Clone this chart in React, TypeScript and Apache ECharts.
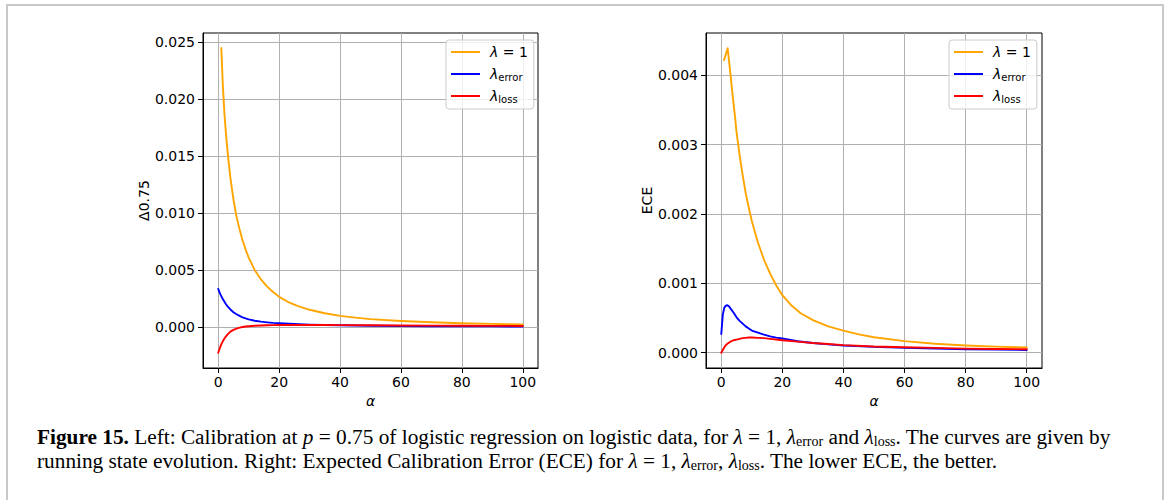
import React, { useEffect, useRef } from "react";
import * as echarts from "echarts";

// ---- data ----
const xTicks = [0, 20, 40, 60, 80, 100];
const leftYTicks = [0, 0.005, 0.01, 0.015, 0.02, 0.025];
const rightYTicks = [0, 0.001, 0.002, 0.003, 0.004];

const seriesNames = ["lam1", "lamErr", "lamLoss"];

const alphaDense = [0, 0.5, 1, 1.5, 2, 2.5, 3, 4, 5, 6, 7, 8, 9, 10, 12, 14, 16, 18, 20, 25, 30, 35, 40, 50, 60, 70, 80, 90, 100];

// Left panel: calibration Delta_0.75
const alphaLeftOrange = [1, 1.5, 2, 2.5, 3, 3.5, 4, 5, 6, 7, 8, 9, 10, 12, 14, 16, 18, 20, 23, 26, 30, 35, 40, 45, 50, 60, 70, 80, 90, 100];
const leftOrange = [0.0245, 0.0213, 0.0189, 0.0171, 0.0156, 0.0143, 0.0131, 0.0112, 0.0097, 0.0086, 0.0076, 0.0068, 0.0061, 0.005, 0.0042, 0.00358, 0.00308, 0.00266, 0.0022, 0.00186, 0.00152, 0.00122, 0.00099, 0.00083, 0.0007, 0.00054, 0.00042, 0.00034, 0.00028, 0.00023];
const leftBlue = [0.00335, 0.003, 0.00272, 0.00247, 0.00224, 0.00203, 0.00185, 0.00155, 0.00131, 0.00113, 0.00098, 0.00086, 0.00076, 0.00068, 0.00056, 0.00048, 0.00042, 0.00037, 0.00034, 0.00027, 0.00022, 0.000185, 0.00016, 0.00012, 0.0001, 0.00008, 0.00007, 0.00006, 0.00005];
const leftRed = [-0.00225, -0.00185, -0.00152, -0.00125, -0.00103, -0.00083, -0.00066, -0.0004, -0.00024, -0.00013, -0.00005, 0.00001, 0.00005, 0.00008, 0.00012, 0.00014, 0.00016, 0.00017, 0.00018, 0.00019, 0.00019, 0.00018, 0.00017, 0.00016, 0.00014, 0.00013, 0.00012, 0.00011, 0.0001];

// Right panel: ECE
const alphaRightOrange = [0.9, 2.1, 3, 3.5, 4, 4.5, 5, 6, 7, 8, 9, 10, 11, 12, 14, 16, 18, 20, 23, 26, 30, 35, 40, 45, 50, 60, 70, 80, 90, 100];
const rightOrange = [0.00422, 0.00439, 0.00402, 0.0038, 0.0036, 0.0034, 0.00318, 0.00285, 0.00256, 0.0023, 0.00209, 0.0019, 0.00174, 0.00159, 0.00134, 0.00114, 0.00097, 0.00083, 0.00068, 0.00057, 0.00047, 0.00038, 0.00032, 0.000265, 0.000224, 0.000167, 0.00013, 0.000105, 0.000088, 0.000077];
const rightBlue = [0.00027, 0.00055, 0.00065, 0.00068, 0.000685, 0.00067, 0.00064, 0.00058, 0.00051, 0.00046, 0.00042, 0.00038, 0.00035, 0.00032, 0.00029, 0.00026, 0.000235, 0.000218, 0.000205, 0.000165, 0.00014, 0.00012, 0.000105, 0.000085, 0.00007, 0.00006, 0.00005, 0.000045, 0.00004];
const rightRed = [0, 0.00004, 0.00008, 0.00011, 0.00013, 0.000145, 0.00016, 0.00018, 0.00019, 0.0002, 0.00021, 0.000215, 0.00022, 0.00022, 0.000215, 0.00021, 0.0002, 0.00019, 0.00018, 0.00016, 0.00014, 0.000125, 0.00011, 0.00009, 0.00008, 0.00007, 0.00006, 0.000055, 0.00005];

const colors = ["#FFA500", "#0000FF", "#FF0000"];

const zip = (xs: number[], ys: number[]) => xs.map((x, i) => [x, ys[i]]);

const FONT = "DejaVu Sans";
const SERIF = "Liberation Serif";
const CAP = 21.3;

function makeXAxis(gridIndex: number) {
  return {
    type: "value",
    gridIndex,
    min: -5,
    max: 105,
    name: "α",
    nameLocation: "middle",
    nameGap: 26,
    nameTextStyle: { fontFamily: FONT, fontSize: 14, fontStyle: "italic", color: "#000" },
    axisLine: { show: true, onZero: false, lineStyle: { color: "#000", width: 1 } },
    axisTick: { show: true, length: 5, customValues: xTicks, lineStyle: { color: "#000", width: 1 } },
    axisLabel: { customValues: xTicks, fontFamily: FONT, fontSize: 14, color: "#000", margin: 7 },
    splitLine: { show: true, lineStyle: { color: "#b0b0b0", width: 1 } },
  };
}

function makeYAxis(gridIndex: number, min: number, max: number, ticks: number[], name: string, nameGap: number) {
  return {
    type: "value",
    gridIndex,
    min,
    max,
    name,
    nameLocation: "middle",
    nameGap,
    nameTextStyle: { fontFamily: FONT, fontSize: 14, color: "#000" },
    axisLine: { show: true, onZero: false, lineStyle: { color: "#000", width: 1 } },
    axisTick: { show: true, length: 5, customValues: ticks, lineStyle: { color: "#000", width: 1 } },
    axisLabel: {
      customValues: ticks,
      fontFamily: FONT,
      fontSize: 14,
      color: "#000",
      margin: 8,
      formatter: (v: number) => v.toFixed(3),
    },
    splitLine: { show: true, lineStyle: { color: "#b0b0b0", width: 1 } },
  };
}

const legendRich = {
  i: { fontFamily: FONT, fontSize: 14, fontStyle: "italic", color: "#000", lineHeight: 16 },
  s: { fontFamily: FONT, fontSize: 10, color: "#000", verticalAlign: "bottom", lineHeight: 16 },
};

const legendLabels: Record<string, string> = {
  lam1: "{i|λ} = 1",
  lamErr: "{i|λ}{s|error}",
  lamLoss: "{i|λ}{s|loss}",
};

function makeLegend(left: number) {
  return {
    left,
    top: 40,
    orient: "vertical",
    data: seriesNames,
    selectedMode: false,
    icon: "rect",
    itemWidth: 29,
    itemHeight: 2,
    itemGap: 6,
    padding: [4, 6, 5, 5],
    borderColor: "#cccccc",
    borderWidth: 1,
    borderRadius: 3,
    backgroundColor: "rgba(255,255,255,0.8)",
    formatter: (name: string) => legendLabels[name],
    textStyle: { fontFamily: FONT, fontSize: 14, color: "#000", lineHeight: 16, padding: [0, 0, 0, 5], rich: legendRich },
  };
}

function line(name: string, xs: number[], ys: number[], color: string, idx: number) {
  return {
    type: "line",
    name,
    xAxisIndex: idx,
    yAxisIndex: idx,
    data: zip(xs, ys),
    showSymbol: false,
    symbol: "none",
    smooth: false,
    color,
    lineStyle: { color, width: 1.9, join: "round", cap: "round" },
    clip: true,
  };
}

const captionRich = {
  b: { fontFamily: SERIF, fontSize: CAP, fontWeight: "bold", color: "#000", lineHeight: 22 },
  i: { fontFamily: SERIF, fontSize: CAP, fontStyle: "italic", color: "#000", lineHeight: 22 },
  s: { fontFamily: SERIF, fontSize: 14, color: "#000", verticalAlign: "bottom", lineHeight: 22 },
};

const captionLine1 =
  "{b|Figure 15.} Left: Calibration at {i|p} = 0.75 of logistic regression on logistic data, for {i|λ} = 1, {i|λ}{s|error} and {i|λ}{s|loss}. The curves are given by";
const captionLine2 =
  "running state evolution. Right: Expected Calibration Error (ECE) for {i|λ} = 1, {i|λ}{s|error}, {i|λ}{s|loss}. The lower ECE, the better.";

export default function App() {
  const ref = useRef<HTMLDivElement>(null);
  useEffect(() => {
    if (!ref.current) return;
    const chart = echarts.init(ref.current, null, { renderer: "svg" });
    chart.setOption({
      animation: false,
      backgroundColor: "#fff",
      grid: [
        { left: 203, top: 33, width: 335, height: 335, show: true, borderColor: "#000", borderWidth: 1, backgroundColor: "transparent" },
        { left: 706, top: 33, width: 336, height: 335, show: true, borderColor: "#000", borderWidth: 1, backgroundColor: "transparent" },
      ],
      xAxis: [makeXAxis(0), makeXAxis(1)],
      yAxis: [
        makeYAxis(0, -0.00359, 0.02582, leftYTicks, "Δ0.75", 48),
        makeYAxis(1, -0.00022, 0.00461, rightYTicks, "ECE", 51),
      ],
      legend: [makeLegend(446), makeLegend(949)],
      series: [
        line("lam1", alphaLeftOrange, leftOrange, colors[0], 0),
        line("lamErr", alphaDense, leftBlue, colors[1], 0),
        line("lamLoss", alphaDense, leftRed, colors[2], 0),
        line("lam1", alphaRightOrange, rightOrange, colors[0], 1),
        line("lamErr", alphaDense, rightBlue, colors[1], 1),
        line("lamLoss", alphaDense, rightRed, colors[2], 1),
      ],
      graphic: [
        {
          type: "rect",
          shape: { x: 7, y: 5, width: 1156, height: 520 },
          style: { fill: "none", stroke: "#c8c8c8", lineWidth: 2 },
          silent: true,
        },
        {
          type: "text",
          x: 37,
          y: 437,
          style: { text: captionLine1, fontFamily: SERIF, fontSize: CAP, fill: "#000", verticalAlign: "middle", lineHeight: 22, rich: captionRich },
        },
        {
          type: "text",
          x: 37,
          y: 461,
          style: { text: captionLine2, fontFamily: SERIF, fontSize: CAP, fill: "#000", verticalAlign: "middle", lineHeight: 22, rich: captionRich },
        },
      ],
    });
    return () => chart.dispose();
  }, []);
  return (
    <div
      ref={ref}
      style={{ position: "absolute", left: 0, top: 0, width: 1167, height: 500, background: "#fff" }}
    />
  );
}
